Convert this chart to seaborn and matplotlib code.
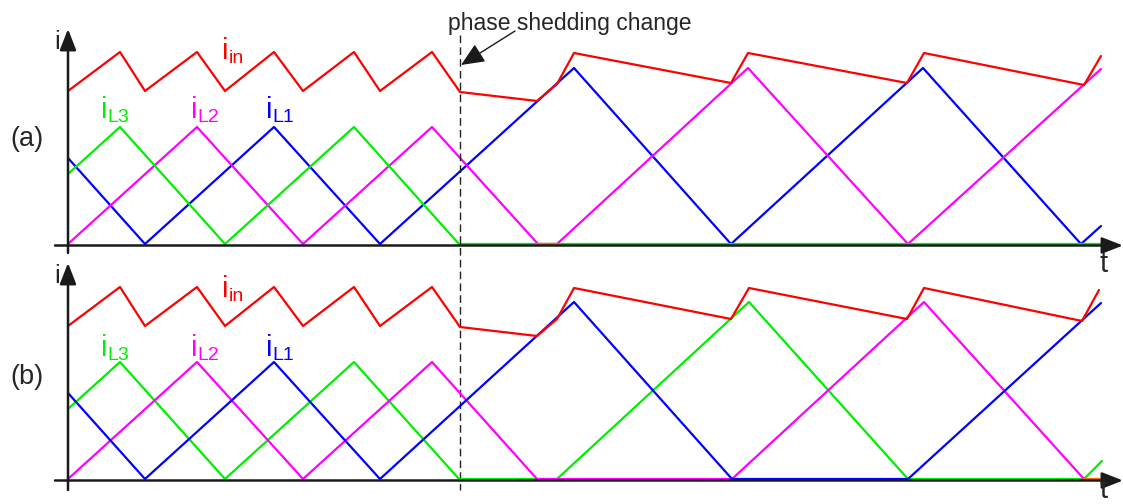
import matplotlib
matplotlib.use("Agg")
import matplotlib.pyplot as plt
import seaborn as sns

sns.set_theme(style="white")
plt.rcParams["font.family"] = ["Liberation Sans", "DejaVu Sans"]

# ---------------- data (t: time, i: current, arbitrary units) ----------------
# panel (a)
t_in_a = [0, 52, 77, 129, 157, 206, 235, 286, 312, 364, 392, 469, 489, 506, 663, 680, 839, 856, 1016, 1033]
i_in_a = [153, 192, 153, 192, 153, 192, 153, 192, 153, 192, 152, 143, 160, 191, 161, 191, 161, 191, 159, 188]
t_L1_a = [0, 77, 206, 312, 506, 663, 855, 1013, 1033]
i_L1_a = [86, 0, 117, 0, 176, 0, 176, 0, 18]
t_L2_a = [0, 129, 235, 364, 470, 489, 680, 840, 1033]
i_L2_a = [0, 117, 0, 117, 0, 0, 176, 0, 175]
t_L3_a = [0, 52, 157, 286, 391, 1034]
i_L3_a = [70, 117, 0, 117, 0, 0]
t_x_a = [469, 489]
i_x_a = [0, 0]

# panel (b)
t_in_b = [0, 52, 77, 129, 157, 206, 235, 286, 312, 364, 392, 469, 489, 506, 663, 681, 839, 856, 1014, 1031]
i_in_b = [153, 192, 153, 192, 153, 192, 153, 192, 153, 192, 152, 143, 160, 191, 160, 191, 160, 191, 158, 189]
t_L1_b = [0, 77, 206, 312, 506, 664, 840, 1033]
i_L1_b = [86, 0, 117, 0, 177, 0, 0, 176]
t_L2_b = [0, 129, 235, 364, 469, 664, 856, 1016]
i_L2_b = [0, 117, 0, 117, 0, 0, 177, 0]
t_L3_b = [0, 52, 157, 286, 391, 489, 681, 840, 1016, 1034]
i_L3_b = [70, 117, 0, 117, 0, 0, 177, 0, 0, 18]
t_x_b = [1016, 1033]
i_x_b = [0, 0]

t_change = 392
panel_labels = ["(a)", "(b)"]
trace_subs = ["in", "L3", "L2", "L1"]

RED, GREEN, MAG, BLUE, ORANGE = "#ff0000", "#00ee00", "#ff00ff", "#0000ff", "#ff6a00"

fig = plt.figure(figsize=(11.23, 5.04), dpi=100)
ax_a = fig.add_axes([0, 0.5, 1, 0.5])
ax_b = fig.add_axes([0, 0.0, 1, 0.5])

LW = 1.6


def draw(ax, traces):
    for t, i, c in traces:
        sns.lineplot(x=t, y=i, ax=ax, color=c, lw=LW, sort=False, estimator=None,
                     legend=False)


def axes_arrows(ax, ybot, ytop):
    style = "-|>,head_length=0.64,head_width=0.25"
    ax.annotate("", xy=(1055, -1.5), xytext=(-13, -1.5), annotation_clip=False,
                arrowprops=dict(arrowstyle=style, mutation_scale=20, lw=1.8, color="k",
                                shrinkA=0, shrinkB=0))
    ax.annotate("", xy=(0, ytop), xytext=(0, ybot), annotation_clip=False,
                arrowprops=dict(arrowstyle=style, mutation_scale=20, lw=1.8, color="k",
                                shrinkA=0, shrinkB=0))


def label(ax, t, i, sub, color):
    ax.text(t, i, "i", color=color, fontsize=21, ha="left", va="baseline")
    ax.annotate(sub, xy=(t, i), xytext=(4.6, -2.6), textcoords="offset points",
                color=color, fontsize=14, ha="left", va="baseline")


# panel (a)
axes_arrows(ax_a, -9, 215)
draw(ax_a, [(t_L1_a, i_L1_a, BLUE), (t_L2_a, i_L2_a, MAG), (t_L3_a, i_L3_a, GREEN),
            (t_x_a, i_x_a, ORANGE), (t_in_a, i_in_a, RED)])
ax_a.set_xlim(-68, 1055)
ax_a.set_ylim(-8, 244)

# panel (b)
axes_arrows(ax_b, -11, 216)
draw(ax_b, [(t_L3_b, i_L3_b, GREEN), (t_L2_b, i_L2_b, MAG), (t_L1_b, i_L1_b, BLUE),
            (t_x_b, i_x_b, ORANGE), (t_in_b, i_in_b, RED)])
ax_b.set_xlim(-68, 1055)
ax_b.set_ylim(-25, 227)

ax_a.text(1036, -28, "t", ha="center", va="baseline", fontsize=21)
ax_b.text(1036, -24.6, "t", ha="center", va="bottom", fontsize=21)

for ax, lab, off, i_ax in [(ax_a, panel_labels[0], 0, 195),
                           (ax_b, panel_labels[1], -3, 196)]:
    ax.axis("off")
    ax.text(-41, 105 + off, lab, ha="center", va="center", fontsize=19.5)
    ax.text(-8, i_ax, "i", ha="right", va="baseline", fontsize=18.5)
    label(ax, 154, 185 + off, trace_subs[0], RED)
    label(ax, 33, 126 + off, trace_subs[1], GREEN)
    label(ax, 123, 126 + off, trace_subs[2], MAG)
    label(ax, 198, 126 + off, trace_subs[3], BLUE)

# phase shedding change marker
ax_a.plot([t_change, t_change], [209, -246], ls=(0, (5.5, 3)), color="#222222", lw=1,
          clip_on=False)
ax_a.text(380, 214, "phase shedding change", ha="left", va="baseline", fontsize=16.5)
ax_a.annotate("", xy=(t_change + 1, 179), xytext=(447, 213), annotation_clip=False,
              arrowprops=dict(arrowstyle="-|>,head_length=0.8,head_width=0.35",
                              mutation_scale=18, lw=1, color="k", shrinkA=0, shrinkB=0))

fig.savefig("out.png", dpi=100)
